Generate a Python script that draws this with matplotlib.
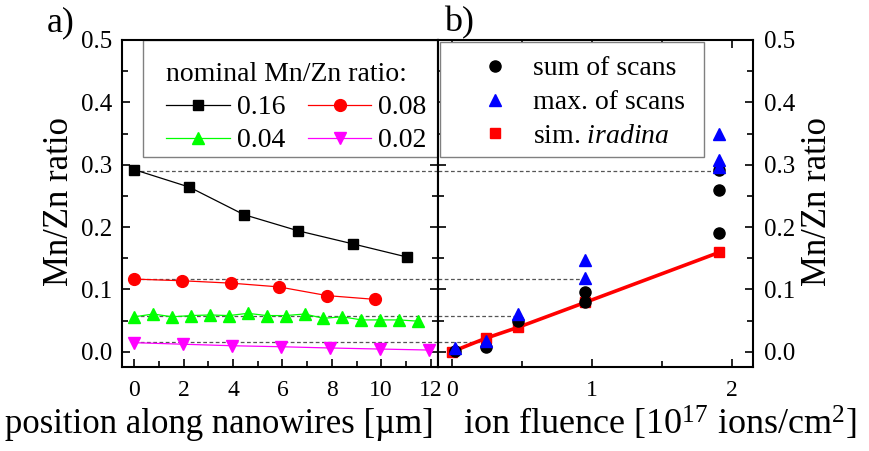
import matplotlib
matplotlib.use("Agg")
import matplotlib.pyplot as plt
from matplotlib.lines import Line2D
from matplotlib.patches import Rectangle
from matplotlib.ticker import MultipleLocator

plt.rcParams["font.family"] = ["Liberation Serif", "DejaVu Serif"]
plt.rcParams["mathtext.fontset"] = "custom"
plt.rcParams["mathtext.rm"] = "Liberation Serif"
plt.rcParams["mathtext.it"] = "Liberation Serif:italic"

# ---- panel a): Mn/Zn ratio along the nanowires ----
pos_016 = [0, 2.23, 4.43, 6.63, 8.85, 11.03]
ratio_016 = [0.292, 0.264, 0.220, 0.194, 0.173, 0.152]

pos_008 = [0, 1.95, 3.92, 5.85, 7.81, 9.74]
ratio_008 = [0.1165, 0.1138, 0.110, 0.104, 0.090, 0.084]

pos_004 = [0, 0.77, 1.53, 2.3, 3.06, 3.83, 4.6, 5.36, 6.13, 6.9, 7.66, 8.43,
           9.2, 9.96, 10.73, 11.49]
ratio_004 = [0.056, 0.0605, 0.056, 0.058, 0.059, 0.058, 0.0616, 0.058, 0.058,
             0.0605, 0.0536, 0.056, 0.051, 0.051, 0.051, 0.049]

pos_002 = [0, 1.99, 3.97, 5.94, 7.92, 9.95, 11.95]
ratio_002 = [0.0145, 0.012, 0.0096, 0.008, 0.006, 0.0043, 0.0027]

# reference levels (ratio at the nanowire tip) and the fluence they belong to
ref_levels = [0.29, 0.116, 0.058, 0.015]
ref_fluence = [1.91, 0.95, 0.47, 0.24]

# ---- panel b): Mn/Zn ratio vs. ion fluence ----
sum_fluence = [0.02, 0.24, 0.47, 0.95, 0.95, 1.91, 1.91, 1.91]
sum_ratio = [0.001, 0.007, 0.050, 0.0953, 0.079, 0.292, 0.2595, 0.19]

max_fluence = [0.02, 0.24, 0.47, 0.95, 0.95, 1.91, 1.91, 1.91]
max_ratio = [0.0065, 0.017, 0.0605, 0.147, 0.118, 0.349, 0.3077, 0.297]

sim_fluence = [0.0, 0.24, 0.47, 0.95, 1.91]
sim_ratio = [0.0, 0.0215, 0.039, 0.079, 0.1595]

W, H = 869, 451
AX_H = 327
fig = plt.figure(figsize=(W / 100, H / 100), dpi=100)
ax1 = fig.add_axes([122 / W, 1 - 367 / H, 316 / W, AX_H / H])
ax2 = fig.add_axes([438 / W, 1 - 367 / H, 315 / W, AX_H / H])

dash = dict(color="#555555", lw=0.9, ls=(0, (3, 2)), zorder=1)
box_bottom = (367 - 157) / AX_H

# panel a
for lvl in ref_levels:
    ax1.plot([0, 12.3], [lvl, lvl], **dash)
series = [
    (pos_016, ratio_016, "k", "s", 7, "0.16"),
    (pos_008, ratio_008, "#ff0000", "o", 8.5, "0.08"),
    (pos_004, ratio_004, "#00ff00", "^", 9, "0.04"),
    (pos_002, ratio_002, "#ff00ff", "v", 9, "0.02"),
]
handles = {}
for x, y, c, m, ms, lab in series:
    (h,) = ax1.plot(x, y, color=c, lw=0.9, marker=m, ms=ms, mec=c, mfc=c,
                    label=lab, zorder=3)
    handles[lab] = h

ax1.set_xlim(-0.5, 12.3)
ax1.set_ylim(-0.0245, 0.5)
ax1.xaxis.set_major_locator(MultipleLocator(2))
ax1.xaxis.set_minor_locator(MultipleLocator(1))
ax1.yaxis.set_major_locator(MultipleLocator(0.1))
ax1.yaxis.set_minor_locator(MultipleLocator(0.05))
ax1.tick_params(which="both", direction="in", left=True, right=True,
                top=False, bottom=True, width=1.2)
ax1.tick_params(which="major", length=6)
ax1.tick_params(which="minor", length=4)
ax1.tick_params(axis="y", labelsize=18, pad=7)
ax1.tick_params(axis="x", labelsize=17, pad=9)
ax1.set_ylabel("Mn/Zn ratio", fontsize=25)
ax1.yaxis.set_label_coords(-0.146, 0.505)
ax1.set_xlabel("position along nanowires [µm]", fontsize=25)
ax1.xaxis.set_label_coords(0.307, -0.175)
ax1.xaxis.label.set_va("center")

# legend frame of panel a sits under the ticks
ax1.add_patch(Rectangle((21 / 316, box_bottom), 1 - 21 / 316, 1 - box_bottom,
                        transform=ax1.transAxes, fc="white", ec="#808080",
                        lw=1.0, zorder=2.4, clip_on=False))
order = ["0.16", "0.04", "0.08", "0.02"]
leg1 = ax1.legend([handles[k] for k in order], order, ncol=2, fontsize=20,
                  title="nominal Mn/Zn ratio:", title_fontsize=20,
                  alignment="left", loc="upper left",
                  bbox_to_anchor=((166 - 122) / 316, (367 - 62) / AX_H),
                  borderaxespad=0, borderpad=0, frameon=False,
                  handlelength=2.3, handletextpad=0.25, labelspacing=0.28,
                  columnspacing=0.8)
leg1.set_zorder(2.45)

# panel b
for lvl, fl in zip(ref_levels, ref_fluence):
    ax2.plot([-0.1, fl], [lvl, lvl], **dash)
ax2.plot(sim_fluence, sim_ratio, color="#ff0000", lw=2.6, marker="s", ms=7,
         zorder=3)
h_sum, = ax2.plot(sum_fluence, sum_ratio, ls="none", marker="o", ms=8,
                  color="k", zorder=4)
h_max, = ax2.plot(max_fluence, max_ratio, ls="none", marker="^", ms=9,
                  color="#0000ff", zorder=5)
h_sim = Line2D([], [], ls="none", marker="s", ms=7, color="#ff0000")

ax2.set_xlim(-0.1, 2.15)
ax2.set_ylim(-0.0245, 0.5)
ax2.xaxis.set_major_locator(MultipleLocator(1))
ax2.xaxis.set_minor_locator(MultipleLocator(0.5))
ax2.yaxis.set_major_locator(MultipleLocator(0.1))
ax2.yaxis.set_minor_locator(MultipleLocator(0.05))
ax2.tick_params(which="both", direction="in", left=True, right=True,
                top=True, bottom=True, labelleft=False, labelright=True,
                width=1.2)
ax2.tick_params(which="major", length=6)
ax2.tick_params(which="minor", length=4)
ax2.tick_params(axis="y", labelsize=18, pad=8)
ax2.tick_params(axis="x", labelsize=17, pad=9)
ax2.yaxis.set_label_position("right")
ax2.set_ylabel("Mn/Zn ratio", fontsize=25, rotation=90)
ax2.yaxis.set_label_coords(1.153, 0.505)
ax2.set_xlabel("ion fluence [10$^{17}$ ions/cm$^2$]", fontsize=26)
ax2.xaxis.set_label_coords(0.705, -0.175)
ax2.xaxis.label.set_va("center")

# legend frame of panel b covers the inner ticks
ax2.add_patch(Rectangle((1.5 / 315, box_bottom), (266 - 1.5) / 315,
                        1 - 1.5 / AX_H - box_bottom, transform=ax2.transAxes,
                        fc="white", ec="#808080", lw=1.0, zorder=6,
                        clip_on=False))
leg2 = ax2.legend([h_sum, h_max, h_sim],
                  ["sum of scans", "max. of scans", "sim. $\\mathit{iradina}$"],
                  fontsize=20, loc="upper left",
                  bbox_to_anchor=((475.5 - 438) / 315, (367 - 56) / AX_H),
                  borderaxespad=0, borderpad=0, frameon=False,
                  handlelength=1.4, handletextpad=0.67, labelspacing=0.3,
                  numpoints=1)
leg2.set_zorder(7)

for ax in (ax1, ax2):
    for sp in ax.spines.values():
        sp.set_linewidth(1.5)

fig.text(61 / W, 1 - 23 / H, "a)", fontsize=26, ha="center", va="center")
fig.text(459 / W, 1 - 23 / H, "b)", fontsize=26, ha="center", va="center")

fig.savefig("out.png", dpi=100)
